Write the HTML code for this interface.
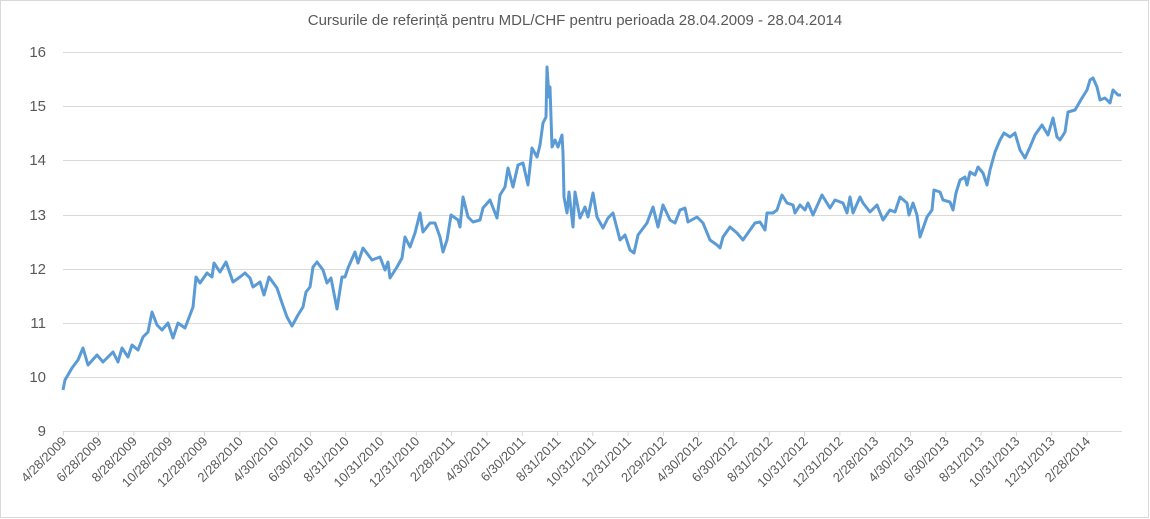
<!DOCTYPE html>
<html><head><meta charset="utf-8"><style>
html,body{margin:0;padding:0;background:#fff;}
svg{display:block;font-family:"Liberation Sans",sans-serif;}
</style></head><body>
<svg width="1150" height="519" viewBox="0 0 1150 519">
<rect x="0.5" y="0.5" width="1148" height="517" fill="#fff" stroke="#d9d9d9"/>
<text x="575" y="25" text-anchor="middle" font-size="15" fill="#595959">Cursurile de referință pentru MDL/CHF pentru perioada 28.04.2009 - 28.04.2014</text>
<g stroke="#d9d9d9" stroke-width="1">
<line x1="63" x2="1122" y1="52.5" y2="52.5"/>
<line x1="63" x2="1122" y1="106.5" y2="106.5"/>
<line x1="63" x2="1122" y1="160.5" y2="160.5"/>
<line x1="63" x2="1122" y1="215.5" y2="215.5"/>
<line x1="63" x2="1122" y1="269.5" y2="269.5"/>
<line x1="63" x2="1122" y1="323.5" y2="323.5"/>
<line x1="63" x2="1122" y1="377.5" y2="377.5"/>
<line x1="63" x2="1122" y1="431.5" y2="431.5"/>
</g>
<g font-size="15" fill="#595959" text-anchor="end">
<text x="46" y="57">16</text><text x="46" y="111">15</text><text x="46" y="165">14</text><text x="46" y="220">13</text><text x="46" y="274">12</text><text x="46" y="328">11</text><text x="46" y="382">10</text><text x="46" y="436">9</text>
</g>
<path stroke="#d9d9d9" d="M63.3,431v5M98.6,431v5M133.9,431v5M169.2,431v5M204.5,431v5M239.8,431v5M275.1,431v5M310.4,431v5M345.7,431v5M381,431v5M416.3,431v5M451.6,431v5M486.9,431v5M522.2,431v5M557.5,431v5M592.8,431v5M628.1,431v5M663.4,431v5M698.7,431v5M734,431v5M769.3,431v5M804.6,431v5M839.9,431v5M875.2,431v5M910.5,431v5M945.8,431v5M981.1,431v5M1016.4,431v5M1051.7,431v5M1087,431v5"/>
<g font-size="13" fill="#595959" text-anchor="end">
<text transform="translate(67.3,442) rotate(-45)">4/28/2009</text>
<text transform="translate(102.6,442) rotate(-45)">6/28/2009</text>
<text transform="translate(137.9,442) rotate(-45)">8/28/2009</text>
<text transform="translate(173.2,442) rotate(-45)">10/28/2009</text>
<text transform="translate(208.5,442) rotate(-45)">12/28/2009</text>
<text transform="translate(243.8,442) rotate(-45)">2/28/2010</text>
<text transform="translate(279.1,442) rotate(-45)">4/30/2010</text>
<text transform="translate(314.4,442) rotate(-45)">6/30/2010</text>
<text transform="translate(349.7,442) rotate(-45)">8/31/2010</text>
<text transform="translate(385,442) rotate(-45)">10/31/2010</text>
<text transform="translate(420.3,442) rotate(-45)">12/31/2010</text>
<text transform="translate(455.6,442) rotate(-45)">2/28/2011</text>
<text transform="translate(490.9,442) rotate(-45)">4/30/2011</text>
<text transform="translate(526.2,442) rotate(-45)">6/30/2011</text>
<text transform="translate(561.5,442) rotate(-45)">8/31/2011</text>
<text transform="translate(596.8,442) rotate(-45)">10/31/2011</text>
<text transform="translate(632.1,442) rotate(-45)">12/31/2011</text>
<text transform="translate(667.4,442) rotate(-45)">2/29/2012</text>
<text transform="translate(702.7,442) rotate(-45)">4/30/2012</text>
<text transform="translate(738,442) rotate(-45)">6/30/2012</text>
<text transform="translate(773.3,442) rotate(-45)">8/31/2012</text>
<text transform="translate(808.6,442) rotate(-45)">10/31/2012</text>
<text transform="translate(843.9,442) rotate(-45)">12/31/2012</text>
<text transform="translate(879.2,442) rotate(-45)">2/28/2013</text>
<text transform="translate(914.5,442) rotate(-45)">4/30/2013</text>
<text transform="translate(949.8,442) rotate(-45)">6/30/2013</text>
<text transform="translate(985.1,442) rotate(-45)">8/31/2013</text>
<text transform="translate(1020.4,442) rotate(-45)">10/31/2013</text>
<text transform="translate(1055.7,442) rotate(-45)">12/31/2013</text>
<text transform="translate(1091,442) rotate(-45)">2/28/2014</text>
</g>
<polyline fill="none" stroke="#5b9bd5" stroke-width="3" stroke-linejoin="round" points="63,390 65,380 72,368 78,360 83,348 88,365 97,355 103,362 113,352 118,362 122,348 128,357 132,345 138,350 143,337 148,332 152,312 157,325 162,330 168,323 173,338 178,323 185,328 190,315 193,307 196,277 200,283 207,273 212,277 214,263 220,272 226,262 233,282 240,277 245,273 250,278 253,287 260,282 264,295 269,277 277,288 282,303 287,317 292,326 298,315 303,307 306,292 310,287 313,267 317,262 323,270 327,283 331,278 337,309 342,277 345,277 348,268 355,252 358,263 363,248 372,260 380,257 385,270 388,262 390,278 397,267 402,258 405,237 410,247 415,233 420,213 423,232 430,223 435,223 440,237 443,252 447,240 451,215 458,220 460,227 463,197 468,217 473,222 480,220 483,208 490,200 497,218 500,195 505,187 508,168 513,187 518,165 523,163 528,185 532,148 537,157 540,145 543,123 546,117 547,67 549,97 550,87 552,147 555,140 558,147 562,135 563,153 564,197 567,213 569,192 573,227 575,192 580,218 585,207 588,217 593,193 597,217 603,228 608,218 613,213 620,240 625,235 630,250 634,253 638,235 647,223 653,207 658,227 663,205 670,220 675,223 680,210 685,208 688,222 697,217 703,223 710,240 717,245 720,248 723,237 730,227 737,233 743,240 750,230 755,223 760,222 765,230 767,213 773,213 777,210 782,195 787,203 793,205 795,213 800,205 805,210 808,203 813,215 822,195 830,208 835,200 843,203 847,213 850,197 853,213 860,197 863,203 870,212 877,205 883,220 890,210 895,212 900,197 907,203 909,215 913,203 917,215 920,237 927,217 932,210 934,190 940,192 943,200 950,202 953,210 956,193 960,180 965,177 967,185 970,172 975,175 978,167 983,173 987,185 990,170 995,152 1000,140 1004,133 1010,137 1015,133 1020,150 1025,158 1030,147 1035,135 1042,125 1048,135 1053,118 1057,137 1060,140 1065,132 1068,112 1075,110 1082,98 1087,90 1090,80 1093,78 1097,87 1100,100 1105,98 1110,103 1113,90 1118,95 1121,95"/>
</svg>
</body></html>
